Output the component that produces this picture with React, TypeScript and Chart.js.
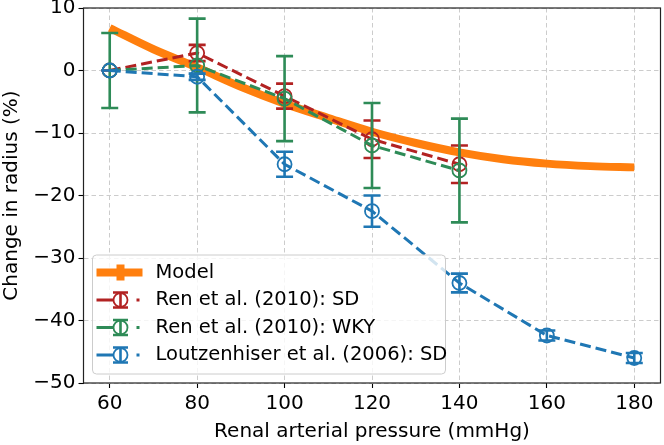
import React, { useEffect, useRef } from "react";
import { Chart, registerables } from "chart.js";

Chart.register(...registerables);

const xTicks = [60, 80, 100, 120, 140, 160, 180];
const yTicks = [-50, -40, -30, -20, -10, 0, 10];

const modelPressure = [60, 70, 80, 90, 100, 110, 120, 130, 140, 150, 160, 170, 180];
const modelRadius = [6.8, 3.4, 0.5, -2.6, -5.3, -7.6, -9.8, -11.6, -13.1, -14.2, -14.9, -15.3, -15.5];

const renPressure = [60, 80, 100, 120, 140];
const renSdMean = [0, 2.8, -4.1, -11.0, -15.0];
const renSdErr = [0, 1.3, 2.0, 3.0, 3.0];
const renWkyMean = [0, 0.8, -4.5, -12.0, -16.0];
const renWkyErr = [6.0, 7.5, 6.8, 6.8, 8.3];

const loutzPressure = [60, 80, 100, 120, 140, 160, 180];
const loutzMean = [0, -1.0, -15.0, -22.5, -34.0, -42.4, -46.0];
const loutzErr = [0, 0.5, 2.0, 2.5, 1.5, 0.8, 0.8];

const seriesLabels = [
  "Model",
  "Ren et al. (2010): SD",
  "Ren et al. (2010): WKY",
  "Loutzenhiser et al. (2006): SD",
];

const ORANGE = "#ff7f0e";
const RED = "#b22222";
const GREEN = "#2e8b57";
const BLUE = "#1f77b4";
const FONT = "'DejaVu Sans', sans-serif";

const toPoints = (xs: number[], ys: number[]) => xs.map((x, i) => ({ x, y: ys[i] }));
const fmt = (v: number) => (v < 0 ? "\u2212" + Math.abs(v) : String(v));

const errorBarPlugin = {
  id: "errorBars",
  afterDatasetDraw(chart: any, args: any) {
    const ds = chart.data.datasets[args.index];
    if (!ds.errors) return;
    const ctx = chart.ctx;
    const yScale = chart.scales.y;
    const cap = 8.5;
    ctx.save();
    ctx.strokeStyle = ds.borderColor;
    ctx.lineWidth = 2.6;
    ctx.setLineDash([]);
    args.meta.data.forEach((pt: any, i: number) => {
      const v = ds.data[i].y;
      const e = ds.errors[i];
      const x = pt.x;
      const yTop = yScale.getPixelForValue(v + e);
      const yBot = yScale.getPixelForValue(v - e);
      ctx.beginPath();
      ctx.moveTo(x, yTop);
      ctx.lineTo(x, yBot);
      ctx.moveTo(x - cap, yTop);
      ctx.lineTo(x + cap, yTop);
      ctx.moveTo(x - cap, yBot);
      ctx.lineTo(x + cap, yBot);
      ctx.stroke();
    });
    ctx.restore();
  },
};

const frameLegendPlugin = {
  id: "frameLegend",
  afterDraw(chart: any) {
    const ctx = chart.ctx;
    const a = chart.chartArea;
    ctx.save();
    ctx.strokeStyle = "#222";
    ctx.lineWidth = 1.2;
    ctx.setLineDash([]);
    ctx.strokeRect(a.left, a.top, a.right - a.left, a.bottom - a.top);

    const left = a.left + 9;
    const bottom = a.bottom - 9;
    const height = 119;
    const top = bottom - height;
    const width = 353;
    const r = 4;
    ctx.beginPath();
    ctx.moveTo(left + r, top);
    ctx.lineTo(left + width - r, top);
    ctx.quadraticCurveTo(left + width, top, left + width, top + r);
    ctx.lineTo(left + width, bottom - r);
    ctx.quadraticCurveTo(left + width, bottom, left + width - r, bottom);
    ctx.lineTo(left + r, bottom);
    ctx.quadraticCurveTo(left, bottom, left, bottom - r);
    ctx.lineTo(left, top + r);
    ctx.quadraticCurveTo(left, top, left + r, top);
    ctx.closePath();
    ctx.fillStyle = "rgba(255,255,255,0.8)";
    ctx.fill();
    ctx.strokeStyle = "#cccccc";
    ctx.lineWidth = 1;
    ctx.stroke();

    const rowY = [17.5, 45, 72.5, 100];
    const colors = [ORANGE, RED, GREEN, BLUE];
    const hx0 = left + 4;
    const hx1 = left + 50;
    const hc = left + 28;
    seriesLabels.forEach((label, i) => {
      const y = top + rowY[i];
      const c = colors[i];
      ctx.strokeStyle = c;
      if (i === 0) {
        ctx.lineWidth = 8;
        ctx.setLineDash([]);
        ctx.beginPath();
        ctx.moveTo(hx0, y);
        ctx.lineTo(hx1, y);
        ctx.moveTo(hc, y - 8);
        ctx.lineTo(hc, y + 8);
        ctx.stroke();
      } else {
        ctx.lineWidth = 3;
        ctx.setLineDash([17, 23, 3, 100]);
        ctx.beginPath();
        ctx.moveTo(hx0, y);
        ctx.lineTo(hx1, y);
        ctx.stroke();
        ctx.setLineDash([]);
        ctx.lineWidth = 2.6;
        ctx.beginPath();
        ctx.moveTo(hc, y - 7.5);
        ctx.lineTo(hc, y + 7.5);
        ctx.moveTo(hc - 7.5, y - 7.5);
        ctx.lineTo(hc + 7.5, y - 7.5);
        ctx.moveTo(hc - 7.5, y + 7.5);
        ctx.lineTo(hc + 7.5, y + 7.5);
        ctx.stroke();
        ctx.lineWidth = 1.8;
        ctx.beginPath();
        ctx.arc(hc, y, 7, 0, Math.PI * 2);
        ctx.stroke();
      }
      ctx.fillStyle = "#000";
      ctx.font = `19.5px ${FONT}`;
      ctx.textBaseline = "middle";
      ctx.textAlign = "left";
      ctx.fillText(label, left + 63, y);
    });
    ctx.restore();
  },
};

function makeSeries(label: string, xs: number[], ys: number[], errs: number[], color: string, order: number) {
  return {
    label,
    data: toPoints(xs, ys),
    errors: errs,
    borderColor: color,
    backgroundColor: color,
    borderWidth: 3,
    borderDash: [11, 5],
    pointRadius: 7,
    pointHoverRadius: 7,
    pointBorderWidth: 1.8,
    pointBackgroundColor: "rgba(0,0,0,0)",
    pointBorderColor: color,
    fill: false,
    tension: 0,
    order,
  };
}

export default function App() {
  const ref = useRef<HTMLCanvasElement | null>(null);
  useEffect(() => {
    if (!ref.current) return;
    const chart = new Chart(ref.current, {
      type: "line",
      data: {
        datasets: [
          {
            label: seriesLabels[0],
            data: toPoints(modelPressure, modelRadius),
            borderColor: ORANGE,
            backgroundColor: ORANGE,
            borderWidth: 8,
            pointRadius: 0,
            cubicInterpolationMode: "monotone",
            fill: false,
            order: 4,
          } as any,
          makeSeries(seriesLabels[1], renPressure, renSdMean, renSdErr, RED, 3) as any,
          makeSeries(seriesLabels[2], renPressure, renWkyMean, renWkyErr, GREEN, 2) as any,
          makeSeries(seriesLabels[3], loutzPressure, loutzMean, loutzErr, BLUE, 1) as any,
        ],
      },
      options: {
        responsive: false,
        animation: false,
        devicePixelRatio: 1,
        layout: { autoPadding: false, padding: { top: 8, right: 3.5, left: 0, bottom: 0 } },
        plugins: { legend: { display: false }, tooltip: { enabled: false } },
        events: [],
        scales: {
          x: {
            type: "linear",
            min: 54,
            max: 186,
            afterBuildTicks: (s: any) => {
              s.ticks = xTicks.map((v) => ({ value: v }));
            },
            afterFit: (s: any) => {
              s.height = 62;
              s.paddingLeft = 0;
              s.paddingRight = 0;
            },
            ticks: {
              color: "#000",
              font: { family: FONT, size: 20 },
              padding: 4,
              maxRotation: 0,
              autoSkip: false,
              callback: (v: any) => fmt(Number(v)),
            },
            grid: {
              color: "#cccccc",
              lineWidth: 1,
              tickLength: 5,
              tickColor: "#000",
              tickWidth: 1.1,
              tickBorderDash: [],
            },
            border: { display: false, dash: [4.5, 3] },
            title: {
              display: true,
              text: "Renal arterial pressure (mmHg)",
              color: "#000",
              font: { family: FONT, size: 20, lineHeight: 1.2 },
              padding: { top: 0, bottom: 1 },
            },
          },
          y: {
            type: "linear",
            min: -50,
            max: 10,
            afterBuildTicks: (s: any) => {
              s.ticks = yTicks.map((v) => ({ value: v }));
            },
            afterFit: (s: any) => {
              s.width = 83.5;
              s.paddingTop = 0;
              s.paddingBottom = 0;
            },
            ticks: {
              color: "#000",
              font: { family: FONT, size: 20 },
              padding: 3,
              autoSkip: false,
              callback: (v: any) => fmt(Number(v)),
            },
            grid: {
              color: "#cccccc",
              lineWidth: 1,
              tickLength: 5,
              tickColor: "#000",
              tickWidth: 1.1,
              tickBorderDash: [],
            },
            border: { display: false, dash: [4.5, 3] },
            title: {
              display: true,
              text: "Change in radius (%)",
              color: "#000",
              font: { family: FONT, size: 20, lineHeight: 1.2 },
              padding: { top: 0, bottom: 0 },
            },
          },
        },
      },
      plugins: [errorBarPlugin, frameLegendPlugin],
    });
    return () => chart.destroy();
  }, []);

  return (
    <div style={{ position: "absolute", left: 0, top: 0, width: 664, height: 445, background: "#fff" }}>
      <canvas ref={ref} width={664} height={445} style={{ width: 664, height: 445, display: "block" }} />
    </div>
  );
}
